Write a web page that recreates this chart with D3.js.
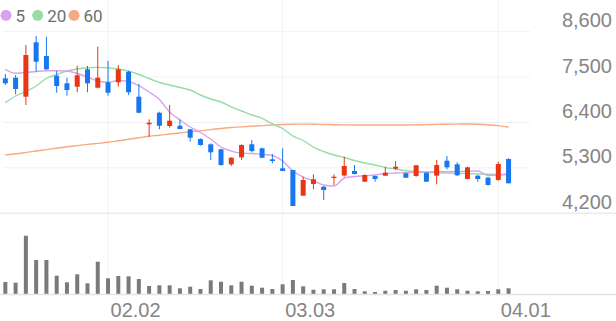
<!DOCTYPE html>
<html>
<head>
<meta charset="utf-8">
<script src="https://cdn.jsdelivr.net/npm/d3@7"></script>
<style>
  body { margin: 0; background: #fff; }
  svg { display: block; font-family: Roboto, "Noto Sans", sans-serif; }
</style>
</head>
<body>
<script>
// trading days (MM.DD)
const dates = ['01.19','01.20','01.21','01.22','01.23','01.26','01.27','01.28','01.29','01.30',
  '02.02','02.03','02.04','02.05','02.06','02.09','02.10','02.11','02.12','02.13','02.19','02.20','02.23','02.24','02.25','02.26','02.27',
  '03.03','03.04','03.05','03.06','03.09','03.10','03.11','03.12','03.13','03.16','03.17','03.18','03.19','03.20','03.23','03.24','03.25','03.26','03.27','03.30','03.31',
  '04.01','04.02'];

const open  = [7470,7485,7025,8343,8011,7534,7350,7267,7689,7243,7374,7374,7631,7025,6356,6637,6315,6322,6235,6000,5872,5751,5387,5557,5872,5775,5508,5290,5249,4626,4910,4844,5055,5116,5225,4966,5104,5111,5281,5169,5104,5184,5111,5474,5387,5031,5111,5062,5007,5516];
const high  = [7575,7551,8278,8496,8479,7648,7485,7776,7769,8237,7897,7793,7655,7333,6478,6662,6824,6478,6242,6017,5896,5765,5557,5872,5976,5789,5637,5775,5249,5087,5145,4861,5145,5571,5370,5145,5111,5329,5467,5184,5370,5193,5491,5588,5436,5329,5128,5087,5450,5532];
const low   = [7310,7083,6824,7631,7672,7122,7049,7132,7132,7229,7049,7267,7066,6623,6056,6235,6274,6235,5935,5838,5491,5353,5346,5491,5678,5532,5411,5225,4377,4626,4781,4522,4886,5087,5145,4958,4966,5111,5249,5055,5087,4958,4902,5266,5104,5024,4966,4878,4990,4927];
const close = [7350,7212,8035,7873,7689,7284,7187,7544,7350,7485,7122,7689,7132,6637,6395,6322,6444,6242,6032,5855,5678,5370,5547,5855,5709,5547,5467,5225,4377,5007,5024,4764,5087,5346,5152,5128,5031,5184,5329,5062,5363,4966,5370,5314,5121,5314,5031,4886,5394,4927];
const volume = [120000,113000,583000,340000,340000,183000,117000,197000,107000,323000,157000,180000,177000,150000,80000,87000,87000,57000,73000,50000,
  137000,123000,87000,123000,83000,63000,50000,97000,140000,77000,43000,47000,47000,110000,50000,27000,20000,33000,40000,33000,
  47000,40000,83000,63000,47000,33000,27000,30000,47000,57000];

const ma5  = [7689,7592,7611,7636,7655,7653,7648,7587,7502,7406,7374,7418,7393,7296,7139,6957,6654,6461,6291,6158,6000,5806,5709,5654,5649,5629,5600,5467,5225,5079,4983,4886,4861,5055,5092,5109,5128,5164,5176,5181,5193,5201,5205,5208,5213,5220,5225,5116,5128,5164];
const ma20 = [6880,7042,7151,7284,7466,7563,7648,7696,7725,7735,7728,7696,7643,7563,7466,7369,7309,7248,7187,7066,6969,6897,6776,6679,6582,6502,6364,6255,6073,5964,5806,5697,5612,5552,5479,5419,5370,5310,5273,5230,5213,5196,5184,5174,5169,5162,5152,5145,5138,5128];
const ma60 = [5612,5642,5673,5709,5743,5777,5811,5840,5869,5894,5920,5957,5993,6032,6068,6092,6121,6146,6175,6199,6228,6255,6279,6293,6308,6325,6339,6352,6359,6361,6359,6352,6347,6342,6339,6339,6339,6339,6339,6339,6344,6349,6354,6359,6361,6364,6359,6347,6325,6284];

const priceTicks = [4200, 5300, 6400, 7500, 8600];
const dateTicks = ['02.02', '03.03', '04.01'];
const legendItems = [
  { label: '5', color: '#d9a2ef', values: ma5 },
  { label: '20', color: '#97dca7', values: ma20 },
  { label: '60', color: '#f7aa82', values: ma60 }
];

const W = 616, H = 321;
const UP = '#ea3512', DOWN = '#1677ee';

const svg = d3.select('body').append('svg')
  .attr('width', W)
  .attr('height', H);

const x = d3.scalePoint()
  .domain(dates)
  .range([0.2, 513.7])
  .padding(0.5);

const y = d3.scaleLinear()
  .domain([4200, 8600])
  .range([213.3, 31.7]);

const yVol = d3.scaleLinear()
  .domain([0, 650000])
  .range([294, 229]);

// grid
const grid = svg.append('g');
grid.selectAll('.hgrid')
  .data(priceTicks.slice(1))
  .enter().append('line')
  .attr('x1', 3).attr('x2', 530)
  .attr('y1', d => y(d)).attr('y2', d => y(d))
  .attr('stroke', '#f1f1f1').attr('stroke-width', 1);

grid.append('line')
  .attr('x1', 0).attr('x2', W)
  .attr('y1', y(4200)).attr('y2', y(4200))
  .attr('stroke', '#ececec').attr('stroke-width', 1.5);

grid.selectAll('.vgrid')
  .data(dateTicks)
  .enter().append('line')
  .attr('x1', d => x(d)).attr('x2', d => x(d))
  .attr('y1', 0).attr('y2', 294)
  .attr('stroke', '#f1f1f1').attr('stroke-width', 1);

// y axis labels on the right
const yAxis = d3.axisRight(y)
  .tickValues(priceTicks)
  .tickSize(0)
  .tickFormat(d3.format(','));
svg.append('g')
  .attr('transform', `translate(${W - 4},0)`)
  .call(yAxis)
  .call(g => g.select('.domain').remove())
  .selectAll('text')
  .attr('x', 0)
  .attr('dy', -5)
  .attr('text-anchor', 'end')
  .attr('fill', '#858585')
  .style('font-size', '20px')
  .style('font-weight', 300);

// volume
svg.append('g').selectAll('rect')
  .data(dates)
  .enter().append('rect')
  .attr('x', d => x(d) - 2)
  .attr('width', 4)
  .attr('y', (d, i) => yVol(volume[i]))
  .attr('height', (d, i) => yVol(0) - yVol(volume[i]))
  .attr('fill', '#7a7a7a');

// x axis
const xAxis = d3.axisBottom(x)
  .tickValues(dateTicks)
  .tickSize(0);
svg.append('g')
  .attr('transform', 'translate(0,294)')
  .call(xAxis)
  .call(g => g.select('.domain').remove())
  .selectAll('text')
  .attr('x', 2)
  .attr('y', 23)
  .attr('dy', 0)
  .attr('text-anchor', 'start')
  .attr('fill', '#858585')
  .style('font-size', '20px')
  .style('font-weight', 300);

svg.append('line')
  .attr('x1', 0).attr('x2', W)
  .attr('y1', 294.5).attr('y2', 294.5)
  .attr('stroke', '#e4e4e4').attr('stroke-width', 1.5);

// moving averages
const line = d3.line()
  .x((d, i) => x(dates[i]))
  .y(d => y(d))
  .curve(d3.curveMonotoneX);

svg.append('g').selectAll('path')
  .data(legendItems.slice().reverse())
  .enter().append('path')
  .attr('d', d => line(d.values))
  .attr('fill', 'none')
  .attr('stroke', d => d.color)
  .attr('stroke-width', 1.4);

// candles
const candles = svg.append('g').selectAll('g')
  .data(dates)
  .enter().append('g');

candles.append('line')
  .attr('x1', d => x(d)).attr('x2', d => x(d))
  .attr('y1', (d, i) => y(high[i]))
  .attr('y2', (d, i) => y(low[i]))
  .attr('stroke', (d, i) => close[i] >= open[i] ? UP : DOWN)
  .attr('stroke-width', 1);

candles.append('rect')
  .attr('x', d => x(d) - 2.5)
  .attr('width', 5)
  .attr('y', (d, i) => y(Math.max(open[i], close[i])))
  .attr('height', (d, i) => Math.max(1, Math.abs(y(open[i]) - y(close[i]))))
  .attr('fill', (d, i) => close[i] >= open[i] ? UP : DOWN);

// legend
const legend = svg.append('g');
const legendX = [6, 37.7, 74];
legendItems.forEach((item, k) => {
  legend.append('circle')
    .attr('cx', legendX[k]).attr('cy', 15.3).attr('r', 5.5)
    .attr('fill', item.color);
  legend.append('text')
    .attr('x', legendX[k] + 9.5).attr('y', 21.5)
    .attr('fill', '#6e6e6e')
    .style('font-size', '17px')
    .text(item.label);
});
</script>
</body>
</html>
